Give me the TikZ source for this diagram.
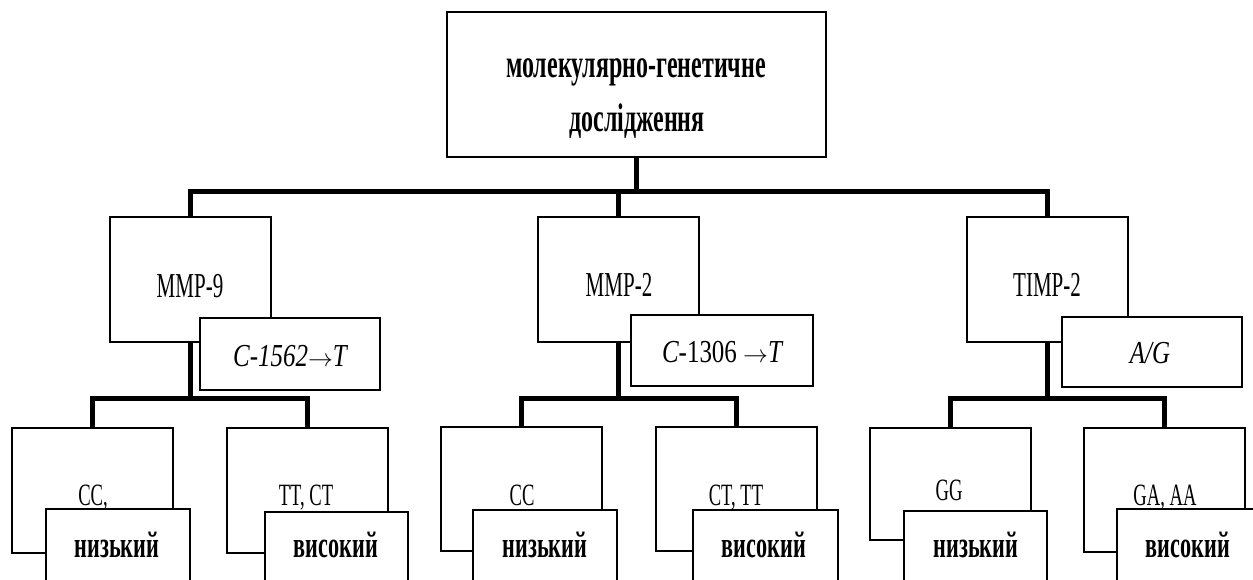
\documentclass[tikz,border=0pt]{standalone}
\usepackage{fontspec}
\setmainfont{Liberation Serif}
\newfontfamily\cond[FakeStretch=0.6]{Liberation Serif}
\newfontfamily\condit[FakeStretch=0.78]{Liberation Serif}
\newcommand{\rarr}{\ensuremath{\rightarrow}}
\begin{document}
\begin{tikzpicture}[x=1pt,y=-1pt,
  gbox/.style={draw,line width=2.6pt,fill=white,inner sep=0pt,minimum width=#1},
  gbox/.default=161pt,
  conn/.style={line width=5pt,line cap=rect},
  toptxt/.style={anchor=base,inner sep=0pt,font=\cond\bfseries\fontsize{40}{46}\selectfont},
  midtxt/.style={anchor=base,inner sep=0pt,font=\cond\fontsize{35}{40}\selectfont},
  ittxt/.style={anchor=base,inner sep=0pt,font=\condit\itshape\fontsize{32}{38}\selectfont},
  lowtxt/.style={anchor=base,inner sep=0pt,font=\cond\fontsize{31}{36}\selectfont},
  restxt/.style={anchor=base,inner sep=0pt,font=\cond\bfseries\fontsize{37}{42}\selectfont}]
\useasboundingbox (0,0) rectangle (1253,580);
\clip (0,0) rectangle (1253,580);
\coordinate (bus) at (0,192);
\coordinate (sub) at (0,398);
% top
\node[gbox=379pt,minimum height=145pt] (T) at (636.5,84.5) {};
% level 2
\node[gbox,minimum height=125pt] (A) at (190.5,279.5) {};
\node[gbox,minimum height=125pt] (B) at (618.5,279.5) {};
\node[gbox,minimum height=125pt] (C) at (1047.5,279.5) {};
% connectors top
\draw[conn] (T.south) -- (T.south |- bus);
\draw[conn] (A.north) -- (A.north |- bus) -| (C.north);
\draw[conn] (B.north |- bus) -- (B.north);
% level 3
\node[gbox,minimum height=125pt] (A1) at (92.5,490.5) {};
\node[gbox,minimum height=125pt] (A2) at (307.5,490.5) {};
\node[gbox,minimum height=124pt] (B1) at (521.5,489) {};
\node[gbox,minimum height=124pt] (B2) at (736.5,489) {};
\node[gbox,minimum height=112pt] (C1) at (950.5,484) {};
\node[gbox,minimum height=124pt] (C2) at (1164.5,490) {};
% sub connectors
\draw[conn] (A.south) -- (A.south |- sub);
\draw[conn] (A1.north) -- (A1.north |- sub) -| (A2.north);
\draw[conn] (B.south) -- (B.south |- sub);
\draw[conn] (B1.north) -- (B1.north |- sub) -| (B2.north);
\draw[conn] (C.south) -- (C.south |- sub);
\draw[conn] (C1.north) -- (C1.north |- sub) -| (C2.north);
% allele boxes
\node[gbox=180pt,minimum height=72pt] (Ai) at (290,354) {};
\node[gbox=182pt,minimum height=71pt] (Bi) at (722,350.5) {};
\node[gbox=180pt,minimum height=70pt] (Ci) at (1152,352) {};
% result boxes
\node[gbox=144pt,minimum height=100pt] (A1r) at (118,559) {};
\node[gbox=143pt,minimum height=100pt] (A2r) at (336.5,562) {};
\node[gbox=144pt,minimum height=100pt] (B1r) at (545,560) {};
\node[gbox=145pt,minimum height=100pt] (B2r) at (765.5,560) {};
\node[gbox=143pt,minimum height=100pt] (C1r) at (975.5,561) {};
\node[gbox=145pt,minimum height=100pt] (C2r) at (1189.5,559) {};
% texts
\node[toptxt] (t1) at (636,78) {молекулярно-генетичне};
\node[toptxt] (t2) at (637,132) {дослідження};
\node[midtxt] (ta) at (190,297) {MMP-9};
\node[midtxt] (tb) at (619,296) {MMP-2};
\node[midtxt] (tc) at (1047,296) {TIMP-2};
\node[ittxt] (tai) at (290,366) {C-1562\rarr T};
\node[ittxt] (tbi) at (722,362) {C{\upshape-1306} \rarr T};
\node[ittxt] (tci) at (1150,363) {A/G};
\node[lowtxt] (ta1) at (93,505) {CC,};
\node[lowtxt] (ta2) at (306,505) {TT, CT};
\node[lowtxt] (tb1) at (522,505) {CC};
\node[lowtxt] (tb2) at (736,505) {CT, TT};
\node[lowtxt] (tc1) at (949,500) {GG};
\node[lowtxt] (tc2) at (1165,505) {GA, AA};
\node[restxt] (ra1) at (117,557) {низький};
\node[restxt] (ra2) at (336,557) {високий};
\node[restxt] (rb1) at (545,557) {низький};
\node[restxt] (rb2) at (764,557) {високий};
\node[restxt] (rc1) at (976,557) {низький};
\node[restxt] (rc2) at (1188,557) {високий};
\end{tikzpicture}
\end{document}
